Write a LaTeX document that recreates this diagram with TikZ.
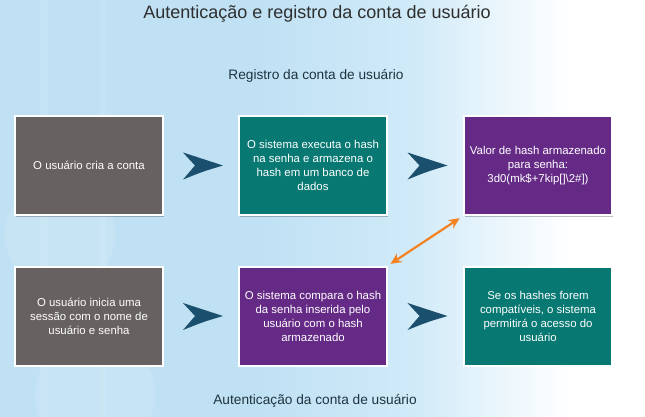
\documentclass[tikz,border=0pt]{standalone}
\usepackage{fontspec}
\setmainfont{Liberation Sans}
\usetikzlibrary{arrows.meta,calc,shadows}
\definecolor{bgblue}{HTML}{C0E1F4}
\definecolor{bgmid}{HTML}{D0EAF8}
\definecolor{boxgray}{HTML}{676161}
\definecolor{boxteal}{HTML}{077872}
\definecolor{boxpurple}{HTML}{652A86}
\definecolor{chevblue}{HTML}{1B4F6E}
\definecolor{arrorange}{HTML}{F58220}
\definecolor{titlegray}{HTML}{2E2E2E}
\definecolor{labeldark}{HTML}{1E3440}
\tikzset{
  card/.style={draw=white, line width=2pt, minimum width=148pt, minimum height=99pt,
    text=white, align=center, font=\fontsize{11.4}{14}\selectfont,
    drop shadow={shadow xshift=1pt, shadow yshift=-1.5pt, opacity=0.25, fill=black}},
  chev/.style={fill=chevblue},
  lbl/.style={text=labeldark, font=\fontsize{13.7}{16}\selectfont}
}
\begin{document}
\begin{tikzpicture}[x=1pt,y=-1pt]
\useasboundingbox (0,0) rectangle (645,417);
\fill[bgblue] (0,0) rectangle (261,417);
\shade[left color=bgblue, right color=bgmid] (260,0) rectangle (411,417);
\shade[left color=bgmid, right color=white] (410,0) rectangle (571,417);
\fill[white] (570,0) rectangle (645,417);
\fill[white, opacity=0.12] (60,235) circle (55);
\fill[white, opacity=0.10] (95,395) circle (60);
\fill[white, opacity=0.08] (40,0) rectangle (48,417);
\fill[white, opacity=0.08] (100,0) rectangle (106,417);
\node[text=titlegray, font=\fontsize{18}{21}\selectfont] (title) at (317,14) {Autenticação e registro da conta de usuário};
\node[lbl] (reg) at (316,76) {Registro da conta de usuário};
\node[lbl] (aut) at (315,401) {Autenticação da conta de usuário};

\node[card, fill=boxgray] (b1) at (89,165.5) {O usuário cria a conta};
\node[card, fill=boxteal] (b2) at (313,165.5) {O sistema executa o hash\\na senha e armazena o\\hash em um banco de\\dados};
\node[card, fill=boxpurple] (b3) at (538,165.5) {Valor de hash armazenado\\para senha:\\3d0(mk\$+7kip[]\textbackslash 2\#])};
\node[card, fill=boxgray] (b4) at (89,316) {O usuário inicia uma\\sessão com o nome de\\usuário e senha};
\node[card, fill=boxpurple] (b5) at (313,316) {O sistema compara o hash\\da senha inserida pelo\\usuário com o hash\\armazenado};
\node[card, fill=boxteal] (b6) at (538,316) {Se os hashes forem\\compatíveis, o sistema\\permitirá o acesso do\\usuário};

\foreach \a/\b in {b1/b2,b2/b3,b4/b5,b5/b6}{
  \coordinate (m) at ($(\a.east)!0.5!(\b.west)+(2,0)$);
  \fill[chev] ($(m)+(-20,-13)$) .. controls ($(m)+(0,-6)$) .. ($(m)+(20,0)$)
     .. controls ($(m)+(0,6)$) .. ($(m)+(-20,14)$) -- ($(m)+(-8,0)$) -- cycle;
}
\draw[arrorange, line width=2.2pt, {Stealth[length=11pt,width=10pt]}-{Stealth[length=11pt,width=10pt]}, shorten <=3pt, shorten >=4pt] (b5.north east) -- (b3.south west);
\end{tikzpicture}
\end{document}
